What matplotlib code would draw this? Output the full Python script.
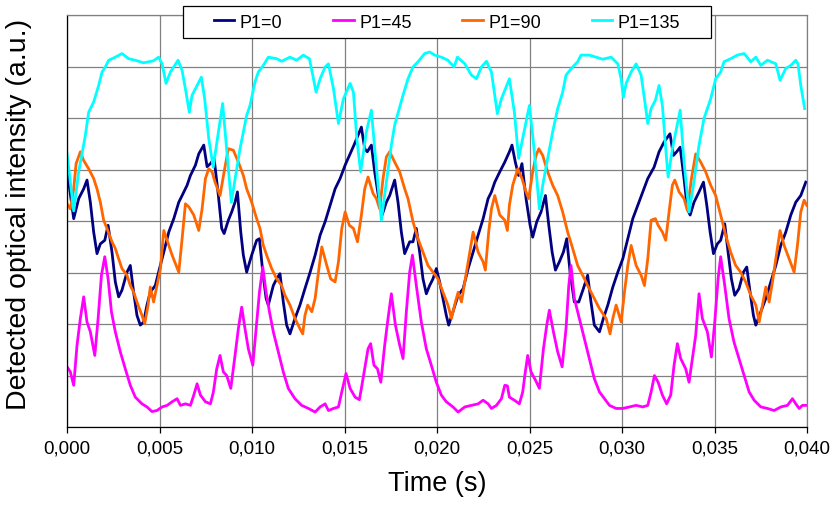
import matplotlib
matplotlib.use('Agg')
import matplotlib.pyplot as plt
from matplotlib.patches import Rectangle
import numpy as np

plt.rcParams['font.family'] = ['Liberation Sans', 'DejaVu Sans']

# time in ms, intensity in arbitrary units (one unit per grid division)
t_p0 = [0.0, 0.36, 0.63, 0.9, 1.08, 1.26, 1.44, 1.62, 1.8, 2.04, 2.22, 2.43, 2.61, 2.79, 2.97, 3.24, 3.42, 3.6,
        3.78, 3.96, 4.14, 4.32, 4.5, 4.77, 4.95, 5.23, 5.5, 5.77, 6.04, 6.22, 6.49, 6.67, 6.94, 7.12, 7.39, 7.57,
        7.75, 7.95, 8.18, 8.36, 8.49, 8.72, 8.9, 9.08, 9.21, 9.39, 9.53, 9.71, 9.98, 10.25, 10.4, 10.58, 10.76,
        10.88, 11.15, 11.33, 11.51, 11.69, 11.87, 12.05, 12.32, 12.59, 12.86, 13.14, 13.41, 13.68, 13.95, 14.22,
        14.49, 14.76, 15.03, 15.3, 15.51, 15.73, 15.91, 16.09, 16.23, 16.45, 16.63, 16.85, 17.03, 17.26, 17.44,
        17.71, 17.89, 18.07, 18.25, 18.52, 18.7, 18.88, 19.06, 19.24, 19.42, 19.6, 19.78, 19.96, 20.14, 20.32,
        20.5, 20.63, 20.86, 21.14, 21.41, 21.68, 21.95, 22.22, 22.49, 22.76, 22.94, 23.12, 23.39, 23.66, 23.91,
        24.05, 24.23, 24.41, 24.59, 24.81, 25.03, 25.17, 25.39, 25.62, 25.86, 26.04, 26.22, 26.4, 26.61, 26.83,
        27.01, 27.19, 27.42, 27.66, 27.91, 28.14, 28.32, 28.5, 28.78, 28.99, 29.23, 29.5, 29.77, 30.04, 30.31,
        30.58, 30.85, 31.12, 31.39, 31.73, 32.0, 32.27, 32.59, 32.78, 32.95, 33.14, 33.35, 33.53, 33.68, 33.89,
        34.16, 34.4, 34.58, 34.76, 34.94, 35.15, 35.33, 35.55, 35.73, 35.91, 36.09, 36.32, 36.56, 36.74, 36.92,
        37.1, 37.23, 37.5, 37.77, 38.04, 38.31, 38.58, 38.85, 39.12, 39.39, 39.66, 39.93]
p0 = [5.0, 4.05, 4.44, 4.63, 4.80, 4.37, 3.79, 3.37, 3.56, 3.63, 3.92, 3.40, 2.82, 2.53, 2.66, 3.01, 3.14, 2.62,
      2.17, 1.98, 2.04, 2.37, 2.62, 2.75, 3.01, 3.40, 3.79, 4.05, 4.37, 4.50, 4.70, 4.89, 5.09, 5.31, 5.48, 5.06,
      5.12, 5.22, 4.50, 3.86, 3.76, 4.02, 4.18, 4.37, 4.57, 3.79, 3.34, 3.01, 3.34, 3.63, 3.66, 3.01, 2.50,
      2.37, 2.75, 2.88, 2.98, 2.43, 1.98, 1.81, 2.11, 2.37, 2.69, 3.01, 3.34, 3.73, 3.99, 4.31,
      4.63, 4.83, 5.09, 5.31, 5.48, 5.67, 5.83, 5.41, 5.35, 5.48, 4.96, 4.44, 4.12, 4.37, 4.50,
      4.80, 4.37, 3.79, 3.37, 3.60, 3.60, 3.86, 3.40, 2.88, 2.59, 2.75, 2.88, 3.08, 2.82, 2.50,
      2.17, 1.98, 2.24, 2.56, 2.69, 3.08, 3.40, 3.73, 4.05, 4.44, 4.57, 4.76, 4.96, 5.15, 5.35,
      5.48, 5.15, 4.89, 5.12, 4.44, 3.92, 3.69, 3.99, 4.18, 4.50, 3.92, 3.40, 3.05, 3.21, 3.40,
      3.66, 3.01, 2.43, 2.43, 2.69, 2.95, 2.43, 1.98, 1.85, 2.11, 2.37, 2.72, 3.01, 3.27, 3.66,
      4.05, 4.31, 4.57, 4.83, 5.05, 5.35, 5.54, 5.70, 5.28, 5.35, 5.44, 4.83, 4.24, 4.12, 4.37,
      4.57, 4.76, 4.31, 3.79, 3.37, 3.56, 3.63, 3.95, 3.40, 2.88, 2.56, 2.69, 3.01, 3.11, 2.62,
      2.17, 1.98, 2.24, 2.50, 2.82, 3.14, 3.53, 3.79, 4.12, 4.37, 4.50, 4.76]

t_p45 = [0.0, 0.18, 0.36, 0.54, 0.72, 0.9, 1.08, 1.26, 1.5, 1.68, 1.86, 2.04, 2.22, 2.4, 2.61, 2.88, 3.15, 3.42,
         3.69, 4.05, 4.32, 4.59, 4.86, 5.14, 5.41, 5.68, 5.95, 6.13, 6.4, 6.67, 6.85, 7.03, 7.21, 7.48, 7.75,
         7.91, 8.09, 8.27, 8.45, 8.63, 8.85, 9.08, 9.26, 9.44, 9.62, 9.8, 10.04, 10.22, 10.4, 10.58, 10.76,
         10.94, 11.15, 11.42, 11.69, 11.96, 12.32, 12.68, 13.05, 13.41, 13.68, 13.95, 14.13, 14.4, 14.67, 14.85,
         15.08, 15.3, 15.57, 15.8, 15.91, 16.09, 16.27, 16.41, 16.59, 16.78, 16.96, 17.17, 17.35, 17.53, 17.75,
         17.98, 18.16, 18.34, 18.52, 18.67, 18.88, 19.15, 19.42, 19.69, 19.96, 20.23, 20.5, 20.86, 21.14, 21.5,
         21.86, 22.22, 22.49, 22.76, 22.94, 23.21, 23.48, 23.66, 23.8, 23.91, 24.18, 24.45, 24.63, 24.77, 24.9,
         25.08, 25.32, 25.53, 25.75, 25.93, 26.07, 26.29, 26.52, 26.76, 26.97, 27.12, 27.24, 27.42, 27.69, 27.96,
         28.23, 28.5, 28.78, 29.05, 29.32, 29.68, 30.04, 30.4, 30.76, 31.12, 31.39, 31.57, 31.75, 31.95, 32.18,
         32.41, 32.63, 32.81, 32.99, 33.17, 33.44, 33.62, 33.8, 33.98, 34.16, 34.34, 34.61, 34.83, 35.01, 35.19,
         35.33, 35.55, 35.78, 36.05, 36.32, 36.6, 36.87, 37.14, 37.5, 37.86, 38.22, 38.58, 38.94, 39.21, 39.39,
         39.57, 39.75, 39.93]
p45 = [1.17, 1.07, 0.81, 1.59, 2.11, 2.53, 2.04, 1.85, 1.39, 2.11, 2.95, 3.31, 2.88, 2.24, 1.85, 1.46, 1.13, 0.81,
       0.58, 0.45, 0.39, 0.30, 0.32, 0.39, 0.42, 0.49, 0.55, 0.42, 0.45, 0.42, 0.62, 0.84, 0.62, 0.49, 0.45,
       0.68, 1.13, 1.39, 1.07, 1.0, 0.75, 1.39, 1.91, 2.33, 1.91, 1.52, 1.20, 1.91, 2.62, 3.11, 2.62,
       2.24, 1.85, 1.46, 1.07, 0.75, 0.55, 0.42, 0.36, 0.29, 0.39, 0.45, 0.32, 0.36, 0.39, 0.68,
       1.04, 0.75, 0.58, 0.53, 0.75, 1.13, 1.52, 1.62, 1.20, 1.13, 0.87, 1.59, 2.11, 2.59, 1.98,
       1.59, 1.33, 2.24, 3.01, 3.34, 2.75, 2.04, 1.52, 1.20, 0.87, 0.62, 0.49, 0.39, 0.29, 0.39,
       0.42, 0.45, 0.52, 0.45, 0.36, 0.42, 0.55, 0.81, 0.80, 0.58, 0.52, 0.45, 0.68, 1.07, 1.39,
       1.07, 0.91, 0.75, 1.52, 1.98, 2.27, 1.85, 1.46, 1.17, 1.91, 2.75, 3.14, 2.50, 2.11, 1.72,
       1.33, 0.94, 0.68, 0.55, 0.42, 0.36, 0.36, 0.39, 0.42, 0.39, 0.42, 0.68, 1.0, 0.87, 0.62,
       0.45, 0.62, 1.20, 1.62, 1.33, 1.13, 0.87, 1.33, 1.78, 2.59, 2.11, 1.85, 1.36, 2.04, 2.88,
       3.31, 2.75, 2.11, 1.65, 1.33, 1.0, 0.68, 0.52, 0.39, 0.36, 0.32, 0.39, 0.42, 0.55, 0.45,
       0.36, 0.42, 0.42]

t_p90 = [0.0, 0.18, 0.36, 0.49, 0.72, 0.9, 1.17, 1.44, 1.62, 1.8, 1.98, 2.16, 2.43, 2.61, 2.79, 2.97, 3.24, 3.42,
         3.6, 3.84, 4.05, 4.2, 4.38, 4.5, 4.68, 4.86, 5.05, 5.23, 5.41, 5.68, 6.04, 6.22, 6.4, 6.58, 6.85, 7.12,
         7.3, 7.48, 7.66, 7.84, 8.0, 8.27, 8.49, 8.72, 8.99, 9.26, 9.53, 9.71, 9.98, 10.25, 10.43, 10.61, 10.79,
         11.06, 11.33, 11.6, 11.78, 12.05, 12.32, 12.59, 12.74, 12.86, 13.01, 13.23, 13.41, 13.59, 13.77, 14.04,
         14.25, 14.49, 14.67, 14.85, 15.03, 15.26, 15.48, 15.7, 15.91, 16.09, 16.27, 16.54, 16.72, 16.9, 17.08,
         17.26, 17.44, 17.71, 17.98, 18.25, 18.43, 18.7, 18.97, 19.24, 19.51, 19.78, 20.05, 20.32, 20.59, 20.78,
         20.99, 21.14, 21.32, 21.59, 21.95, 22.22, 22.49, 22.61, 22.79, 22.94, 23.12, 23.39, 23.66, 23.8, 23.91,
         24.09, 24.36, 24.59, 24.81, 24.95, 25.17, 25.35, 25.5, 25.71, 25.98, 26.25, 26.52, 26.79, 27.06, 27.33,
         27.6, 27.87, 28.14, 28.41, 28.78, 29.14, 29.35, 29.5, 29.68, 29.95, 30.13, 30.31, 30.49, 30.76, 31.03,
         31.21, 31.39, 31.57, 31.8, 31.95, 32.18, 32.36, 32.54, 32.72, 32.85, 33.08, 33.35, 33.53, 33.75, 33.98,
         34.25, 34.52, 34.79, 35.06, 35.33, 35.6, 35.87, 36.14, 36.41, 36.68, 36.96, 37.23, 37.41, 37.59, 37.77,
         37.95, 38.13, 38.31, 38.54, 38.76, 39.03, 39.3, 39.48, 39.66, 39.84, 39.98]
p90 = [4.34, 4.24, 4.63, 5.12, 5.35, 5.18, 5.02, 4.83, 4.63, 4.37, 4.02, 3.86, 3.60, 3.47, 3.27, 3.08, 2.95, 2.75,
       2.62, 2.37, 2.17, 2.01, 2.37, 2.72, 2.43, 2.75, 3.08, 3.82, 3.63, 3.34, 3.01, 3.66, 4.34, 4.28, 4.12, 3.82,
       4.24, 4.83, 5.02, 4.96, 4.76, 4.50, 4.96, 5.41, 5.38, 5.15, 4.89, 4.63, 4.37, 4.05, 3.86, 3.53, 3.34,
       3.08, 2.88, 2.75, 2.56, 2.37, 2.11, 1.91, 1.81, 2.17, 2.37, 2.24, 2.50, 3.01, 3.50, 3.14,
       2.88, 2.82, 3.21, 3.86, 4.18, 3.92, 3.86, 3.60, 4.12, 4.63, 4.86, 4.54, 4.44, 4.24, 4.83,
       5.25, 5.35, 5.15, 4.96, 4.63, 4.44, 3.99, 3.66, 3.40, 3.14, 3.01, 2.88, 2.62, 2.37, 2.11,
       2.43, 2.62, 2.43, 3.01, 3.79, 3.40, 3.21, 3.05, 3.79, 4.24, 4.50, 4.12, 4.02, 3.82, 4.31,
       4.70, 5.02, 4.83, 4.57, 4.44, 4.96, 5.28, 5.41, 5.28, 4.96, 4.70, 4.50, 4.18, 3.79, 3.47,
       3.14, 2.95, 2.75, 2.56, 2.30, 2.11, 1.81, 2.11, 2.37, 2.04, 2.62, 3.14, 3.53, 3.14, 2.95,
       2.75, 3.27, 4.02, 4.05, 3.92, 3.79, 3.63, 4.18, 4.70, 4.80, 4.57, 4.44, 4.21, 4.83, 5.31,
       5.15, 4.96, 4.70, 4.50, 4.12, 3.73, 3.40, 3.14, 3.01, 2.82, 2.56, 2.37, 2.04, 2.37, 2.72,
       2.43, 2.82, 3.27, 3.82, 3.53, 3.27, 3.01, 3.53, 4.18, 4.41, 4.31]

t_p135 = [0.0, 0.36, 0.63, 0.99, 1.17, 1.44, 1.71, 1.89, 2.07, 2.25, 2.61, 2.97, 3.33, 3.69, 4.14, 4.41, 4.68,
          4.95, 5.14, 5.35, 5.59, 6.0, 6.22, 6.43, 6.61, 6.76, 7.03, 7.26, 7.44, 7.66, 7.9, 8.41, 8.88, 9.35, 9.71,
          9.89, 10.16, 10.34, 10.61, 10.88, 11.33, 11.6, 12.05, 12.41, 12.77, 13.1, 13.32, 13.46, 13.68, 13.95,
          14.13, 14.4, 14.67, 14.94, 15.3, 15.48, 15.66, 15.87, 16.18, 16.45, 16.63, 16.81, 16.99, 17.26, 17.53,
          17.71, 17.98, 18.16, 18.43, 18.7, 18.97, 19.33, 19.6, 19.87, 20.23, 20.59, 20.92, 21.1, 21.5, 21.86,
          22.13, 22.4, 22.67, 22.94, 23.12, 23.26, 23.48, 23.91, 24.18, 24.41, 24.63, 24.99, 25.17, 25.39, 25.53,
          25.71, 25.98, 26.25, 26.52, 26.79, 26.97, 27.33, 27.6, 27.78, 28.23, 28.59, 28.96, 29.41, 29.77, 29.95,
          30.07, 30.22, 30.49, 30.76, 31.03, 31.26, 31.39, 31.57, 31.8, 32.0, 32.18, 32.36, 32.49, 32.72, 33.14,
          33.35, 33.62, 33.86, 34.16, 34.43, 34.79, 35.06, 35.33, 35.51, 35.87, 36.23, 36.6, 36.96, 37.23, 37.5,
          37.86, 38.31, 38.54, 38.85, 39.12, 39.39, 39.51, 39.66, 39.87]
p135 = [5.31, 4.2, 4.96, 5.67, 6.12, 6.32, 6.64, 6.90, 7.0, 7.13, 7.19, 7.26, 7.16, 7.13, 7.08, 7.10, 7.12,
        7.19, 7.06, 6.68, 6.90, 7.13, 6.93, 6.51, 6.12, 6.45, 6.64, 6.80, 6.38, 5.61, 5.05, 6.29, 4.37, 5.41, 6.06,
        6.25, 6.71, 6.90, 7.03, 7.19, 7.16, 7.11, 7.19, 7.13, 7.23, 7.16, 6.77, 6.51, 6.77, 7.0,
        7.06, 6.58, 5.9, 6.38, 6.68, 6.51, 5.61, 4.96, 5.74, 6.16, 5.41, 4.70, 4.02, 4.76, 5.48,
        5.87, 6.22, 6.45, 6.77, 7.0, 7.1, 7.26, 7.29, 7.23, 7.19, 7.13, 7.0, 7.19, 7.06, 6.84,
        6.77, 7.0, 7.11, 6.90, 6.45, 6.09, 6.38, 6.77, 6.12, 5.22, 5.61, 6.25, 5.67, 4.83, 4.24,
        4.70, 5.22, 5.74, 6.19, 6.51, 6.84, 7.0, 7.1, 7.23, 7.23, 7.19, 7.15, 7.19, 7.06, 6.77,
        6.41, 6.68, 6.90, 7.06, 6.84, 6.25, 5.9, 6.19, 6.35, 6.64, 6.25, 5.41, 4.86, 5.41, 6.16,
        5.15, 4.18, 4.70, 5.48, 6.0, 6.38, 6.77, 6.90, 7.1, 7.16, 7.23, 7.26, 7.1, 7.19, 7.03,
        7.13, 7.06, 6.74, 6.97, 7.03, 7.13, 7.06, 6.64, 6.19]

labels = ['P1=0', 'P1=45', 'P1=90', 'P1=135']
colors = ['#000080', '#FF00FF', '#FF6600', '#00FFFF']
series = [(t_p0, p0), (t_p45, p45), (t_p90, p90), (t_p135, p135)]

fig = plt.figure(figsize=(8.4, 5.06), dpi=100)
ax = fig.add_axes([0.0798, 0.1542, 0.881, 0.8132])

for (t, y), lab, col in zip(series, labels, colors):
    ax.plot(np.array(t) / 1000.0, y, color=col, lw=2.0, label=lab)

ax.set_xlim(0, 0.040)
ax.set_ylim(0, 8)
ax.set_xticks(np.arange(0, 0.0401, 0.005))
ax.set_yticks(np.arange(0, 9, 1))
ax.xaxis.set_major_formatter(plt.FuncFormatter(lambda v, _: f'{v:.3f}'.replace('.', ',')))
ax.set_yticklabels([])
ax.tick_params(axis='y', length=0)
ax.tick_params(axis='x', direction='out', length=4, width=0.9, labelsize=13.5, pad=5, color='black')
ax.grid(True, color='#808080', linewidth=0.9)
ax.set_axisbelow(True)

for side in ['top', 'right']:
    ax.spines[side].set_color('#808080')
    ax.spines[side].set_linewidth(0.9)
for side in ['left', 'bottom']:
    ax.spines[side].set_color('black')
    ax.spines[side].set_linewidth(0.9)

ax.set_xlabel('Time (s)', fontsize=19.5, labelpad=10)
ax.set_ylabel('Detected optical intensity (a.u.)', fontsize=20.5)
ax.yaxis.set_label_coords(-0.047, 0.518)

# legend frame spans wider than its entries
frame = Rectangle((183 / 840, 1 - 39 / 506), 528 / 840, 32 / 506, transform=fig.transFigure,
                  facecolor='white', edgecolor='black', linewidth=0.9, zorder=4)
fig.patches.append(frame)
fig.legend(loc='center', bbox_to_anchor=(447 / 840, 1 - 23 / 506), ncol=4, frameon=False,
           fontsize=13, handlelength=1.15, handletextpad=0.3, columnspacing=2.8)

fig.savefig('out.png', dpi=100)
